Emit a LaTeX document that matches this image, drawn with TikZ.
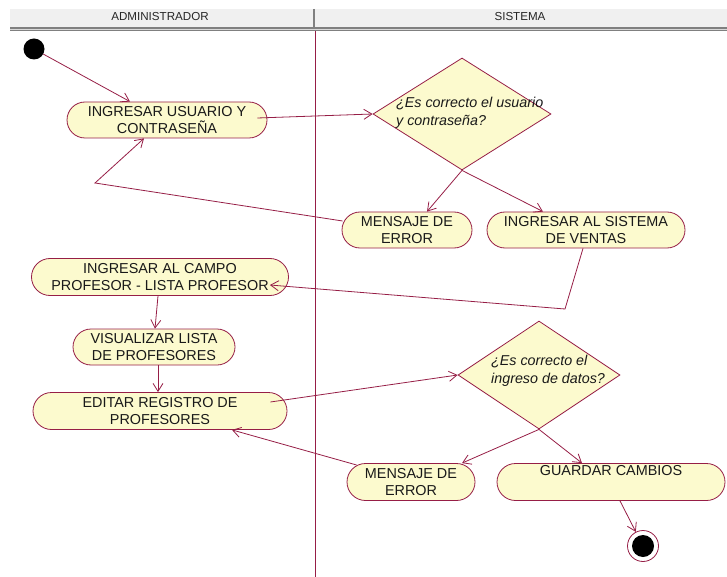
\documentclass[tikz,border=0pt]{standalone}
\usepackage{fontspec}
\setmainfont{Liberation Sans}
\usetikzlibrary{shapes.misc,shapes.geometric,arrows.meta,calc}
\definecolor{rose}{RGB}{150,30,70}
\definecolor{lane}{RGB}{150,30,70}
\definecolor{actfill}{RGB}{252,250,206}
\definecolor{headfill}{RGB}{240,240,240}
\definecolor{headline}{RGB}{128,128,128}
\begin{document}
\begin{tikzpicture}[x=1pt,y=-1pt,
  activity/.style={rounded rectangle, draw=rose, fill=actfill, line width=0.8pt,
    inner sep=0pt, align=center, text=black!90,
    font=\fontsize{14.4}{17.5}\selectfont},
  decision/.style={diamond, draw=rose, fill=actfill, line width=0.8pt, inner sep=0pt},
  guard/.style={align=left, anchor=west, inner sep=0pt, text=black!90,
    font=\fontsize{14.3}{18}\selectfont\itshape},
  flow/.style={draw=rose, line width=0.8pt, -{Straight Barb[length=8pt,width=10pt]}},
  lanehead/.style={font=\fontsize{11.6}{13}\selectfont, text=black!85, inner sep=0pt}]
\useasboundingbox (0,0) rectangle (727,577);

% swimlane header
\fill[headfill] (10,9) rectangle (727,27);
\fill[headline] (10,27) rectangle (727,31);
\draw[white!70!headline, line width=0.6pt] (10,29) -- (727,29);
\draw[headline, line width=2pt] (314,9) -- (314,27);
\node[lanehead] (hadmin) at (160,17) {ADMINISTRADOR};
\node[lanehead] (hsys) at (520,17) {SISTEMA};
% lane separator
\draw[lane, line width=0.8pt] (315,31) -- (315,577);

% initial and final states
\node[circle, fill=black, minimum size=21pt, inner sep=0pt] (start) at (34,49) {};
\node[circle, draw=rose, fill=white, line width=0.8pt, minimum size=31pt, inner sep=0pt] (end) at (643,546) {};
\node[circle, fill=black, minimum size=22pt, inner sep=0pt] (endcore) at (643,546) {};

% activities
\node[activity, minimum width=200pt, minimum height=36pt] (a1) at (167,120) {INGRESAR USUARIO Y\\CONTRASEÑA};
\node[activity, minimum width=130pt, minimum height=36pt] (e1) at (407,230) {MENSAJE DE\\ERROR};
\node[activity, minimum width=198pt, minimum height=36pt] (v1) at (586,230) {INGRESAR AL SISTEMA\\DE VENTAS};
\node[activity, minimum width=257pt, minimum height=37pt] (a2) at (160,277) {INGRESAR AL CAMPO\\PROFESOR - LISTA PROFESOR};
\node[activity, minimum width=162pt, minimum height=36pt] (a3) at (154,347) {VISUALIZAR LISTA\\DE PROFESORES};
\node[activity, minimum width=254pt, minimum height=37pt] (a4) at (160,411) {EDITAR REGISTRO DE\\PROFESORES};
\node[activity, minimum width=128pt, minimum height=37pt] (e2) at (411,482) {MENSAJE DE\\ERROR};
\node[activity, minimum width=228pt, minimum height=37pt] (g) at (611,482) {GUARDAR CAMBIOS\\\strut};

% decisions
\node[decision, minimum width=178pt, minimum height=112pt] (d1) at (462,114) {};
\node[guard] (d1text) at (396,113) {¿Es correcto el usuario\\y contraseña?};
\node[decision, minimum width=162pt, minimum height=108pt] (d2) at (539,375) {};
\node[guard] (d2text) at (491,371) {¿Es correcto el\\ingreso de datos?};

% bends
\coordinate (b1) at (95,183);
\coordinate (b2) at (565,309);

% transitions
\draw[flow] (start) -- ($(a1.north)+(-37,0)$);
\draw[flow] ($(a1.east)+(-10,-2)$) -- (d1.west);
\draw[flow] (d1.south) -- ($(e1.north)+(20,0)$);
\draw[flow] (d1.south) -- ($(v1.north)+(-43,0)$);
\draw[flow] ($(e1.west)+(1,-9)$) -- (b1) -- ($(a1.south)+(-23,0)$);
\draw[flow] ($(v1.south)+(-3,0)$) -- (b2) -- ($(a2.east)+(-19,8)$);
\draw[flow] ($(a2.south)+(-2,0)$) -- ($(a3.north)+(1,0)$);
\draw[flow] ($(a3.south)+(4,0)$) -- ($(a4.north)+(-2,0)$);
\draw[flow] ($(a4.east)+(-17,-9)$) -- (d2.west);
\draw[flow] (d2.south) -- ($(e2.north)+(51,0)$);
\draw[flow] (d2.south) -- ($(g.north)+(-29,0)$);
\draw[flow] ($(e2.west)+(10,-17)$) -- ($(a4.south)+(72,0)$);
\draw[flow] ($(g.south)+(9,0)$) -- (end);
\end{tikzpicture}
\end{document}
